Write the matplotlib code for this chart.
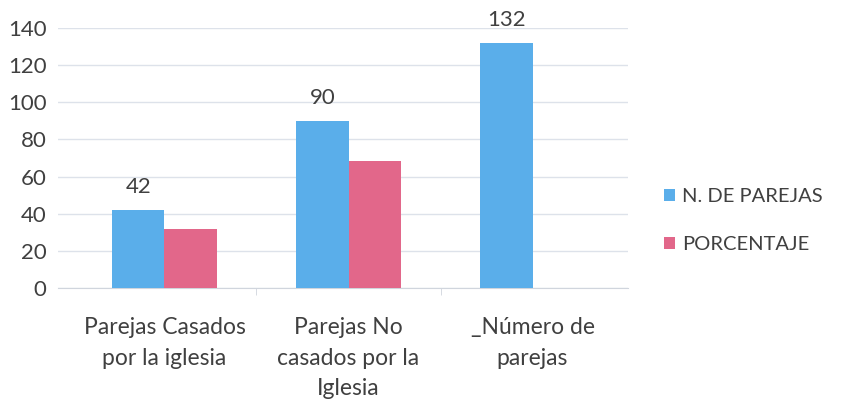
import numpy as np
import matplotlib
matplotlib.use("Agg")
from matplotlib import pyplot as plt

plt.rcParams['font.family'] = ['Lato', 'DejaVu Sans']

# Data
categories = ["Parejas Casados\npor la iglesia", "Parejas No\ncasados por la\nIglesia", "_Número de\nparejas"]
n_parejas = [42, 90, 132]
porcentaje = [31.8, 68.2]
series_names = ["N. DE PAREJAS", "PORCENTAJE"]

blue = "#5aaeea"
pink = "#e2678a"
grid_col = "#dde2ea"
txt = "#404040"

fig = plt.figure(figsize=(8.49, 4.04), dpi=100)
ax = fig.add_axes([0.068, 0.287, 0.672, 0.644])

x = np.arange(len(categories))
w = 0.283
b1 = ax.bar(x - w / 2, n_parejas, w, color=blue, label=series_names[0], zorder=3)
b2 = ax.bar(x[:len(porcentaje)] + w / 2, porcentaje, w, color=pink, label=series_names[1], zorder=3)

for xi, v in zip(x, n_parejas):
    ax.text(xi - w / 2, v + 7, str(v), ha='center', va='bottom', fontsize=16, color=txt)

ax.set_ylim(0, 140)
ax.set_xlim(-0.58, 2.52)
ax.set_yticks(range(0, 141, 20))
ax.yaxis.grid(True, color=grid_col, linewidth=1, zorder=0)
for s in ['top', 'right', 'left']:
    ax.spines[s].set_visible(False)
ax.spines['bottom'].set_color("#d0d5dd")
ax.tick_params(axis='y', length=0, labelsize=16, labelcolor=txt, pad=8)
ax.set_xticks(x)
ax.set_xticklabels(categories, fontsize=16.5, color=txt, linespacing=1.55)
ax.tick_params(axis='x', length=0, pad=21)
ax.set_xticks([0.5, 1.5], minor=True)
ax.tick_params(axis='x', which='minor', length=5, color="#d0d5dd")

ax.legend(loc='center left', bbox_to_anchor=(1.03, 0.26), frameon=False,
          fontsize=14.5, handlelength=0.55, handleheight=0.55, handletextpad=0.35,
          labelspacing=1.55, labelcolor=txt)

fig.savefig("out.png", dpi=100)
